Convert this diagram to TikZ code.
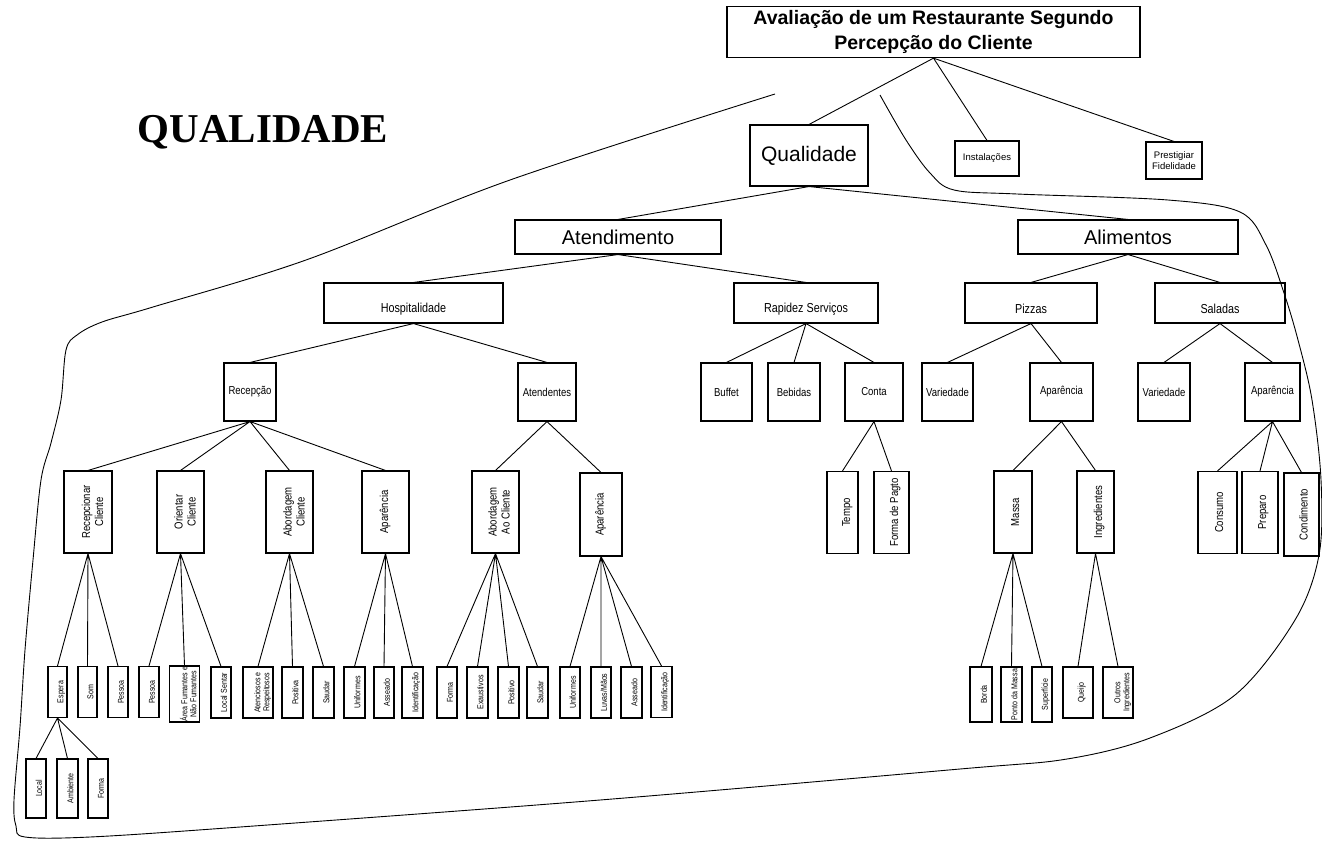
\documentclass[tikz,border=0pt]{standalone}
\usepackage{fontspec}
\usepackage{graphicx}
\setmainfont{Liberation Sans}
\newfontfamily\narrowfont[FakeStretch = 0.83]{Liberation Sans}
\newfontfamily\bigserif{Liberation Serif}
\newcommand{\vtxt}[1]{\rotatebox{90}{\begin{tabular}{@{}c@{}}#1\end{tabular}}}
\newcommand{\rtxt}[2]{\hspace{#1pt}\vtxt{#2}}
\newcommand{\lowtxt}[1]{\raisebox{-6pt}[\height][\depth]{#1}}
\begin{document}
\begin{tikzpicture}[x = 1pt, y = -1pt,
        every node/.style = {draw = black, line width = 1.1pt, inner sep = 1pt},
        con/.style = {line width = 0.9pt},
        lvthree/.style = {minimum height = 40, font = \narrowfont\fontsize{13}{15}\selectfont},
        lvfour/.style = {minimum height = 58, font = \narrowfont\fontsize{11.5}{13}\selectfont},
        tall/.style = {minimum height = 82, font = \narrowfont\fontsize{11.5}{13}\selectfont},
        leaf/.style = {minimum height = 51, inner sep = 0.5pt, font = \narrowfont\fontsize{8.5}{9}\selectfont}]
    \useasboundingbox (0,0) rectangle (1322,846);

    \node[minimum width = 413, minimum height = 51, line width = 1.3pt, align = center,
        font = \bfseries\fontsize{19.5}{25}\selectfont] (aval) at (933.5,32)
        {Avaliação de um Restaurante Segundo\\Percepção do Cliente};
    \node[draw = none, font = \bigserif\bfseries\fontsize{41}{41}\selectfont] (qtit) at (263,132) {QUALIDADE};

    \node[minimum width = 118, minimum height = 61, font = \fontsize{21}{24}\selectfont] (qual) at (809,155.5) {Qualidade};
    \node[minimum width = 64, minimum height = 35, font = \fontsize{9.5}{11}\selectfont] (inst) at (987,158.5) {Instalações};
    \node[minimum width = 56, minimum height = 37, align = center, font = \fontsize{9.5}{11}\selectfont] (pfid) at (1174,160.5) {Prestigiar\\Fidelidade};

    \node[minimum width = 206, minimum height = 34, font = \fontsize{20}{24}\selectfont] (aten) at (618,237) {Atendimento};
    \node[minimum width = 220, minimum height = 34, font = \fontsize{20}{24}\selectfont] (alim) at (1128,237) {Alimentos};

    \node[lvthree, minimum width = 179] (hosp) at (413.5,303) {\lowtxt{Hospitalidade}};
    \node[lvthree, minimum width = 144] (rapi) at (806,303) {\lowtxt{Rapidez Serviços}};
    \node[lvthree, minimum width = 132] (pizz) at (1031,303) {\lowtxt{Pizzas}};
    \node[lvthree, minimum width = 130] (sala) at (1220,303) {\lowtxt{Saladas}};

    \node[lvfour, minimum width = 52] (rece) at (250,392) {Recepção};
    \node[lvfour, minimum width = 58] (atds) at (547,392) {Atendentes};
    \node[lvfour, minimum width = 51] (buff) at (726.5,392) {Buffet};
    \node[lvfour, minimum width = 52] (bebi) at (794,392) {Bebidas};
    \node[lvfour, minimum width = 58] (cont) at (874,392) {Conta};
    \node[lvfour, minimum width = 51] (varp) at (947.5,392) {Variedade};
    \node[lvfour, minimum width = 63] (apap) at (1061.5,392) {Aparência};
    \node[lvfour, minimum width = 52] (vars) at (1164,392) {Variedade};
    \node[lvfour, minimum width = 55] (apas) at (1272.5,392) {Aparência};

    \node[tall, minimum width = 48] (rcli) at (88,512) {\rtxt{12}{Recepcionar\\Cliente}};
    \node[tall, minimum width = 47] (ocli) at (180.5,512) {\rtxt{12}{Orientar\\Cliente}};
    \node[tall, minimum width = 47] (acli) at (289.5,512) {\rtxt{12}{Abordagem\\Cliente}};
    \node[tall, minimum width = 47] (apar) at (385.5,512) {\vtxt{Aparência}};
    \node[tall, minimum width = 47] (aaoc) at (495.5,512) {\rtxt{10}{Abordagem\\Ao Cliente}};
    \node[tall, minimum width = 42, minimum height = 83] (apat) at (601,514.5) {\vtxt{Aparência}};
    \node[tall, minimum width = 31] (temp) at (842.5,512.5) {\rtxt{10}{Tempo}};
    \node[tall, minimum width = 35] (fpag) at (891.5,512.5) {\rtxt{8}{Forma de Pagto}};
    \node[tall, minimum width = 38] (mass) at (1013,512) {\rtxt{7}{Massa}};
    \node[tall, minimum width = 37] (ingr) at (1095.5,512) {\rtxt{8}{Ingredientes}};
    \node[tall, minimum width = 39] (cons) at (1217.5,512.5) {\rtxt{6}{Consumo}};
    \node[tall, minimum width = 36] (prep) at (1260,512.5) {\rtxt{7}{Preparo}};
    \node[tall, minimum width = 35, minimum height = 83] (cond) at (1301.5,514.5) {\rtxt{7}{Condimento}};

    \node[leaf, minimum width = 19] (espe) at (57.5,692) {\rtxt{8}{Espera}};
    \node[leaf, minimum width = 19] (somm) at (87.5,692) {\rtxt{8}{Som}};
    \node[leaf, minimum width = 20] (pesa) at (118,692) {\rtxt{8}{Pessoa}};
    \node[leaf, minimum width = 20] (pesb) at (149,692) {\rtxt{8}{Pessoa}};
    \node[leaf, minimum width = 29, minimum height = 56] (afum) at (184.5,694) {\rtxt{10}{Área Fumantes e\\Não Fumantes}};
    \node[leaf, minimum width = 20] (lsen) at (221,692.5) {\rtxt{8}{Local Sentar}};
    \node[leaf, minimum width = 30] (aten2) at (258,692.5) {\rtxt{10}{Atenciosos e\\Respeitosos}};
    \node[leaf, minimum width = 21] (posa) at (292.5,692.5) {\rtxt{8}{Positiva}};
    \node[leaf, minimum width = 21] (saua) at (323.5,692.5) {\rtxt{8}{Saudar}};
    \node[leaf, minimum width = 21] (unia) at (354.5,692.5) {\rtxt{8}{Uniformes}};
    \node[leaf, minimum width = 20] (assa) at (384,692.5) {\rtxt{8}{Asseado}};
    \node[leaf, minimum width = 21] (idea) at (412.5,692.5) {\rtxt{8}{Identificação}};
    \node[leaf, minimum width = 20] (form) at (447,692.5) {\rtxt{8}{Forma}};
    \node[leaf, minimum width = 21] (exau) at (477.5,692.5) {\rtxt{8}{Exaustivos}};
    \node[leaf, minimum width = 21] (posb) at (508.5,692.5) {\rtxt{8}{Positivo}};
    \node[leaf, minimum width = 21] (saub) at (537.5,692.5) {\rtxt{8}{Saudar}};
    \node[leaf, minimum width = 20] (unib) at (570,692.5) {\rtxt{8}{Uniformes}};
    \node[leaf, minimum width = 20] (luva) at (601,692.5) {\rtxt{8}{Luvas/Mãos}};
    \node[leaf, minimum width = 21] (assb) at (631.5,692.5) {\rtxt{8}{Asseado}};
    \node[leaf, minimum width = 21] (ideb) at (661.5,692) {\rtxt{8}{Identificação}};
    \node[leaf, minimum width = 22, minimum height = 55] (bord) at (981,694.5) {\rtxt{8}{Borda}};
    \node[leaf, minimum width = 21, minimum height = 55] (pmas) at (1011.5,694.5) {\rtxt{8}{Ponto da Massa}};
    \node[leaf, minimum width = 20, minimum height = 55] (supe) at (1042,694.5) {\rtxt{8}{Superfície}};
    \node[leaf, minimum width = 30] (quei) at (1078,692.5) {\rtxt{8}{Queijo}};
    \node[leaf, minimum width = 30] (outr) at (1118,692.5) {\rtxt{10}{Outros\\Ingredientes}};

    \node[leaf, minimum width = 20, minimum height = 59] (loca) at (36,788.5) {\rtxt{8}{Local}};
    \node[leaf, minimum width = 21, minimum height = 59] (ambi) at (67.5,788.5) {\rtxt{8}{Ambiente}};
    \node[leaf, minimum width = 20, minimum height = 59] (fora) at (98,788.5) {\rtxt{8}{Forma}};

    \draw[con] (aval.south) -- (qual.north) (aval.south) -- (inst.north) (aval.south) -- (pfid.north);
    \draw[con] (qual.south) -- (aten.north) (qual.south) -- (alim.north);
    \draw[con] (aten.south) -- (hosp.north) (aten.south) -- (rapi.north);
    \draw[con] (alim.south) -- (pizz.north) (alim.south) -- (sala.north);
    \draw[con] (hosp.south) -- (rece.north) (hosp.south) -- (atds.north);
    \draw[con] (rapi.south) -- (buff.north) (rapi.south) -- (bebi.north) (rapi.south) -- (cont.north);
    \draw[con] (pizz.south) -- (varp.north) (pizz.south) -- (apap.north);
    \draw[con] (sala.south) -- (vars.north) (sala.south) -- (apas.north);
    \draw[con] (rece.south) -- (rcli.north) (rece.south) -- (ocli.north)
        (rece.south) -- (acli.north) (rece.south) -- (apar.north);
    \draw[con] (atds.south) -- (aaoc.north) (atds.south) -- (apat.north);
    \draw[con] (cont.south) -- (temp.north) (cont.south) -- (fpag.north);
    \draw[con] (apap.south) -- (mass.north) (apap.south) -- (ingr.north);
    \draw[con] (apas.south) -- (cons.north) (apas.south) -- (prep.north) (apas.south) -- (cond.north);
    \draw[con] (rcli.south) -- (espe.north) (rcli.south) -- (somm.north) (rcli.south) -- (pesa.north);
    \draw[con] (ocli.south) -- (pesb.north) (ocli.south) -- (afum.north) (ocli.south) -- (lsen.north);
    \draw[con] (acli.south) -- (aten2.north) (acli.south) -- (posa.north) (acli.south) -- (saua.north);
    \draw[con] (apar.south) -- (unia.north) (apar.south) -- (assa.north) (apar.south) -- (idea.north);
    \draw[con] (aaoc.south) -- (form.north) (aaoc.south) -- (exau.north)
        (aaoc.south) -- (posb.north) (aaoc.south) -- (saub.north);
    \draw[con] (apat.south) -- (unib.north) (apat.south) -- (luva.north)
        (apat.south) -- (assb.north) (apat.south) -- (ideb.north);
    \draw[con] (mass.south) -- (bord.north) (mass.south) -- (pmas.north) (mass.south) -- (supe.north);
    \draw[con] (ingr.south) -- (quei.north) (ingr.south) -- (outr.north);
    \draw[con] (espe.south) -- (loca.north) (espe.south) -- (ambi.north) (espe.south) -- (fora.north);

    \draw[con] plot[smooth, tension = 0.55] coordinates {(775,94) (510,180) (306,260) (153,307) (102,322)
        (77,335) (66,350) (61,400) (51,443) (41,480) (33,560) (25,650) (20,727) (14,800) (16,826)
        (25,837) (90,837) (240,827) (600,800) (960,769) (1067,759) (1150,738) (1235,695) (1295,620)
        (1319,555) (1321,480) (1312,400) (1298,340) (1284,293) (1266,245) (1240,212) (1168,200) (1017,194)
        (954,190) (930,173) (906,140) (880,95)};
\end{tikzpicture}
\end{document}
